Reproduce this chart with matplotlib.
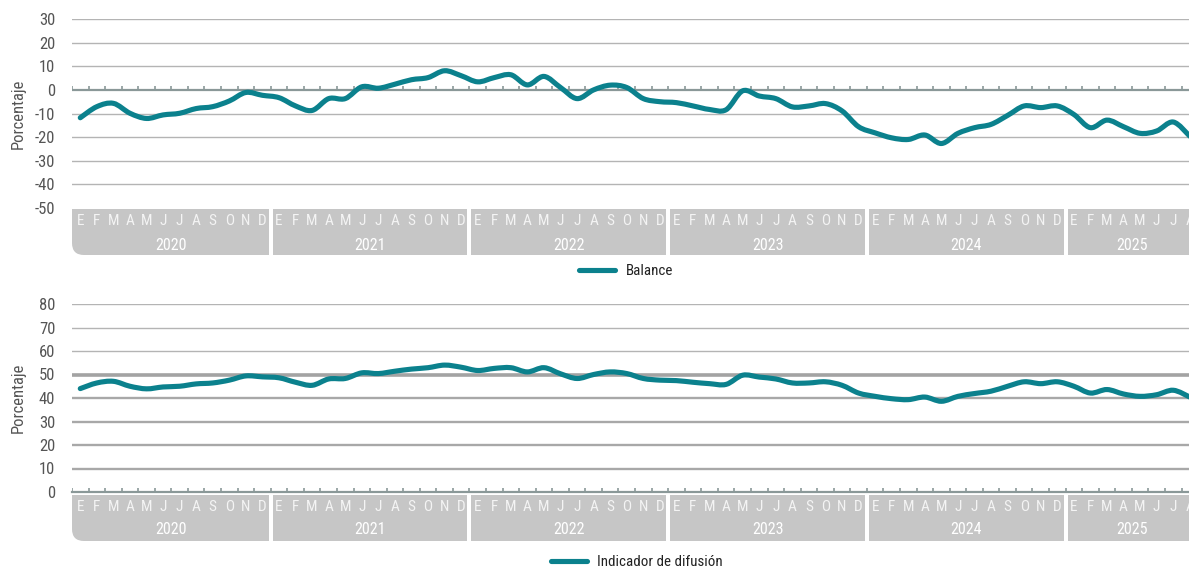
import numpy as np
import matplotlib
matplotlib.use("Agg")
import matplotlib.pyplot as plt
import matplotlib.transforms as mtransforms
from matplotlib.patches import FancyBboxPatch, Rectangle, PathPatch
from matplotlib.path import Path
from matplotlib.lines import Line2D

# datos mensuales ene-2020 .. ago-2025
years = ["2020", "2021", "2022", "2023", "2024", "2025"]
month_letters = ["E", "F", "M", "A", "M", "J", "J", "A", "S", "O", "N", "D"]

balance = [-11.8, -7.1, -5.7, -9.9, -12.1, -10.6, -9.9, -7.9, -7.1, -4.7, -1.1, -2.3,
           -3.3, -6.8, -8.7, -3.7, -3.7, 1.3, 0.7, 2.4, 4.3, 5.2, 8.1, 6.0,
           3.4, 5.2, 6.4, 2.1, 5.7, 1.0, -3.7, 0.0, 2.0, 1.0, -3.7, -5.0,
           -5.4, -6.8, -8.3, -8.4, -0.4, -2.6, -3.7, -7.2, -6.8, -5.8, -8.9, -15.6,
           -18.2, -20.3, -21.0, -19.1, -22.7, -18.4, -16.0, -14.6, -10.8, -6.8, -7.5, -6.8,
           -10.4, -16.0, -12.8, -15.6, -18.4, -17.4, -13.6, -19.6]

difusion = [44.0, 46.4, 47.1, 45.0, 43.9, 44.7, 45.0, 46.0, 46.4, 47.6, 49.4, 49.0,
            48.6, 46.7, 45.4, 48.1, 48.3, 50.7, 50.4, 51.4, 52.3, 52.9, 54.0, 53.1,
            51.7, 52.6, 52.9, 51.1, 52.9, 50.3, 48.3, 50.0, 51.1, 50.4, 48.3, 47.6,
            47.4, 46.7, 46.1, 45.8, 49.7, 48.9, 48.1, 46.4, 46.4, 46.9, 45.4, 42.1,
            40.7, 39.7, 39.3, 40.4, 38.6, 40.7, 41.9, 42.9, 45.0, 46.9, 46.1, 46.9,
            45.0, 42.1, 43.6, 41.7, 40.7, 41.4, 43.3, 40.4]

TEAL = "#0b818d"
GRID = "#b4b4b4"
AXIS = "#8a9898"
BAND = "#c6c6c6"
TXT = "#555555"
LW = 3.7

plt.rcParams["font.family"] = ["Roboto Condensed", "Liberation Sans Narrow", "Roboto", "DejaVu Sans"]
plt.rcParams["font.stretch"] = "condensed"
plt.rcParams["axes.unicode_minus"] = False

W, H = 1189, 568
fig = plt.figure(figsize=(W / 100, H / 100), dpi=100)

n = len(balance)
x = np.arange(n)
left_px = 72
right_px = 72 + n * 16.56  # el eje sigue un poco más allá del borde


def smooth_path(xs, ys):
    # curva suave (catmull-rom -> bezier) que pasa por los puntos
    p = np.column_stack([xs, ys]).astype(float)
    verts = [p[0]]
    codes = [Path.MOVETO]
    for i in range(len(p) - 1):
        p0 = p[i - 1] if i > 0 else p[i]
        p3 = p[i + 2] if i + 2 < len(p) else p[i + 1]
        c1 = p[i] + (p[i + 1] - p0) / 6
        c2 = p[i + 1] - (p3 - p[i]) / 6
        verts += [c1, c2, p[i + 1]]
        codes += [Path.CURVE4] * 3
    return Path(verts, codes)


def make_axes(top_px, bot_px):
    ax = fig.add_axes([left_px / W, 1 - bot_px / H, (right_px - left_px) / W, (bot_px - top_px) / H])
    ax.set_xlim(-0.5, n - 0.5)
    ax.set_facecolor("none")
    for s in ax.spines.values():
        s.set_visible(False)
    ax.set_xticks([])
    ax.tick_params(axis="y", length=0, pad=12, labelsize=12, labelcolor=TXT)
    ax.set_ylabel("Porcentaje", fontsize=12, color=TXT)
    ax.yaxis.set_label_coords(-46 / (right_px - left_px), 0.5)
    return ax


def draw_band(ax, top_px, bot_px, letter_px, year_px):
    ident = mtransforms.IdentityTransform()
    bounds = [ax.transData.transform((k * 12 - 0.5, 0))[0] for k in range(len(years) + 1)]
    y0, y1 = H - bot_px, H - top_px
    kw = dict(fc=BAND, ec="none", transform=ident, zorder=-5)
    for k, yr in enumerate(years):
        x0 = bounds[k] + (0 if k == 0 else 2)
        x1 = bounds[k + 1] - 2
        if k == 0:
            fig.add_artist(FancyBboxPatch((x0, y0), x1 - x0, y1 - y0,
                                          boxstyle="round,pad=0,rounding_size=12", **kw))
            fig.add_artist(Rectangle((x0, (y0 + y1) / 2), x1 - x0, (y1 - y0) / 2, **kw))
            fig.add_artist(Rectangle(((x0 + x1) / 2, y0), (x1 - x0) / 2, y1 - y0, **kw))
        else:
            fig.add_artist(Rectangle((x0, y0), x1 - x0, y1 - y0, **kw))
    trans = mtransforms.blended_transform_factory(ax.transData, ident)
    for i in range(n):
        ax.text(i, H - letter_px, month_letters[i % 12], transform=trans, ha="center",
                va="center", fontsize=11, color="#f4f4f4", clip_on=False)
    for k, yr in enumerate(years):
        months = [i for i in range(n) if i // 12 == k]
        ax.text(np.mean(months), H - year_px, yr, transform=trans, ha="center", va="center",
                fontsize=11.5, color="white", clip_on=False)


def draw_series(ax, values, label, legend_x_px, legend_y_px):
    ax.add_patch(PathPatch(smooth_path(x, values), fill=False, ec=TEAL, lw=LW,
                           capstyle="round", joinstyle="round", zorder=3))
    handle = Line2D([], [], color=TEAL, lw=LW, solid_capstyle="round")
    leg = ax.legend([handle], [label], loc="center",
                    bbox_to_anchor=(legend_x_px / W, 1 - legend_y_px / H),
                    bbox_transform=fig.transFigure, frameon=False, fontsize=10.8,
                    handlelength=2.4, handletextpad=0.7)
    for t in leg.get_texts():
        t.set_color("#222222")


# panel superior: balance
ax1 = make_axes(19, 208)
ax1.set_ylim(-50, 30)
ax1.set_yticks(range(-50, 31, 10))
for v in range(-40, 31, 10):
    if v != 0:
        ax1.axhline(v, color=GRID, lw=1.0, zorder=1)
ax1.axhline(0, color=AXIS, lw=1.6, zorder=2)
ax1.vlines(np.arange(-0.5, n, 1), 0, 1.6, color=AXIS, lw=1.2, zorder=2)
draw_series(ax1, balance, "Balance", 626, 271)
draw_band(ax1, 209, 255, 221, 245)

# panel inferior: indicador de difusión
ax2 = make_axes(304, 492)
ax2.set_ylim(0, 80)
ax2.set_yticks(range(0, 81, 10))
for v in range(10, 81, 10):
    if v == 50:
        ax2.axhline(v, color="#a3a3a3", lw=2.6, zorder=1)
    elif v < 50:
        ax2.axhline(v, color="#a8a8a8", lw=1.7, zorder=1)
    else:
        ax2.axhline(v, color=GRID, lw=1.0, zorder=1)
ax2.axhline(0, color=AXIS, lw=1.6, zorder=2, clip_on=False)
ax2.vlines(np.arange(-0.5, n, 1), 0, 1.6, color=AXIS, lw=1.2, zorder=2)
draw_series(ax2, difusion, "Indicador de difusión", 637, 562)
draw_band(ax2, 495, 541, 507, 530)

fig.savefig("out.png", dpi=100)
